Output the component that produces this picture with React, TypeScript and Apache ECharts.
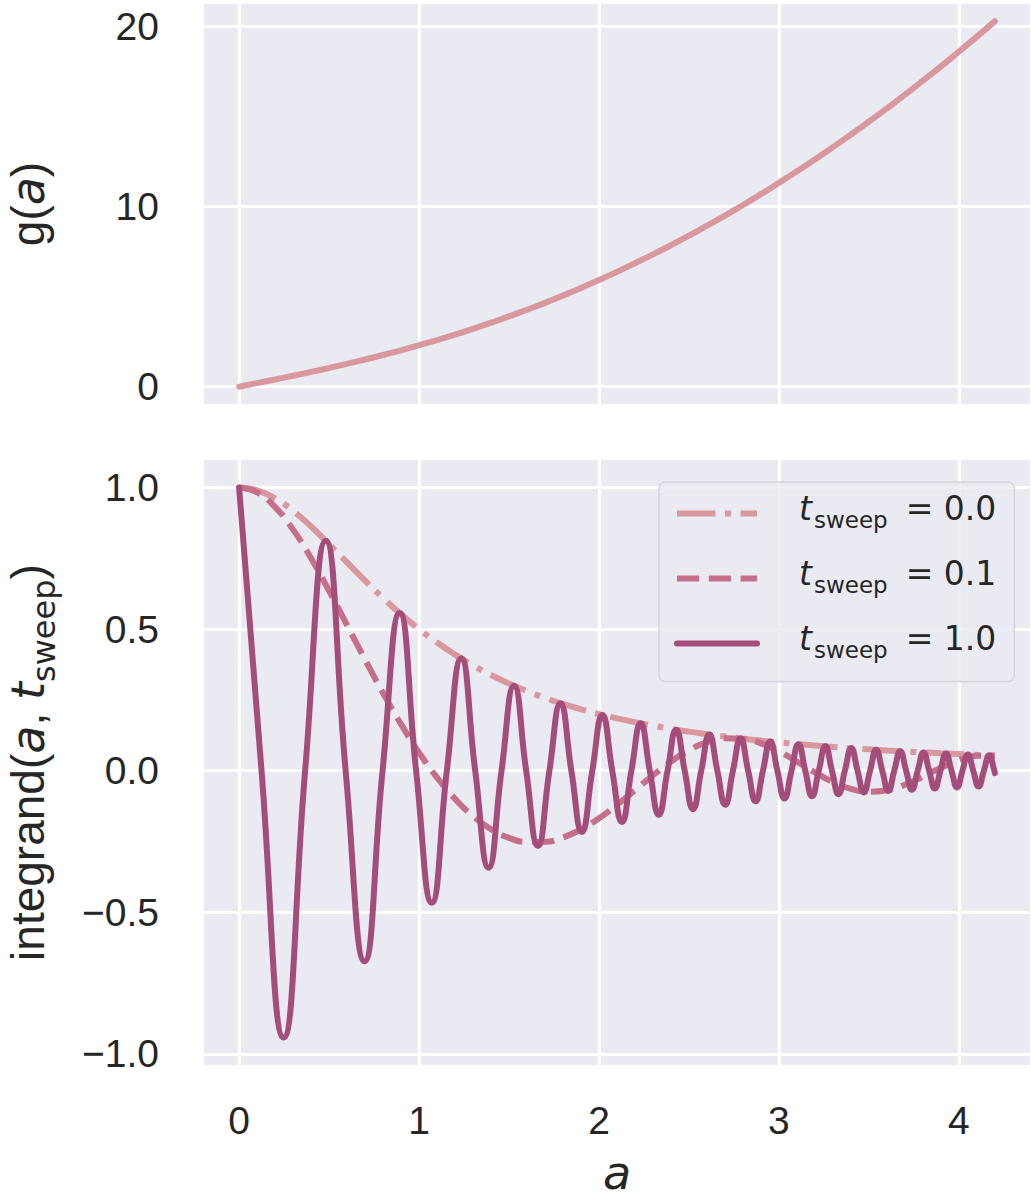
import React, { useEffect, useRef } from 'react';
import * as echarts from 'echarts';

// ---- data ----
const aGrid = [
  0, 0.1, 0.2, 0.3, 0.4, 0.5, 0.6, 0.7, 0.8, 0.9, 1.0, 1.1, 1.2, 1.3, 1.4, 1.5, 1.6, 1.7, 1.8, 1.9, 2.0,
  2.1, 2.2, 2.3, 2.4, 2.5, 2.6, 2.7, 2.8, 2.9, 3.0, 3.1, 3.2, 3.3, 3.4, 3.5, 3.6, 3.7, 3.8, 3.9, 4.0, 4.1, 4.2,
];
const gOfA = [
  0, 0.2, 0.4, 0.61, 0.82, 1.04, 1.27, 1.51, 1.76, 2.02, 2.3, 2.59, 2.89, 3.21, 3.55, 3.9, 4.27, 4.65, 5.06, 5.48, 5.92,
  6.37, 6.85, 7.34, 7.85, 8.38, 8.93, 9.49, 10.08, 10.68, 11.31, 11.95, 12.61, 13.29, 13.99, 14.71, 15.44, 16.2, 16.98,
  17.77, 18.59, 19.42, 20.28,
];
const integrandT00 = [
  1, 0.99, 0.9615, 0.9174, 0.8621, 0.8, 0.7353, 0.6711, 0.6098, 0.5525, 0.5, 0.4525, 0.4098, 0.3717, 0.3378, 0.3077,
  0.2809, 0.2571, 0.2358, 0.2169, 0.2, 0.1848, 0.1712, 0.159, 0.1479, 0.1379, 0.1289, 0.1206, 0.1131, 0.1063, 0.1,
  0.0943, 0.089, 0.0841, 0.0796, 0.0755, 0.0716, 0.0681, 0.0648, 0.0617, 0.0588, 0.0561, 0.0536,
];
const integrandT01 = [
  1, 0.9823, 0.9309, 0.8511, 0.7499, 0.6351, 0.5138, 0.3921, 0.2744, 0.1643, 0.0641, -0.0243, -0.0995, -0.1605,
  -0.2065, -0.237, -0.2517, -0.251, -0.2357, -0.2072, -0.1678, -0.1203, -0.0684, -0.0161, 0.0322, 0.0723, 0.1007,
  0.1146, 0.113, 0.0967, 0.0682, 0.032, -0.006, -0.04, -0.064, -0.0742, -0.0689, -0.0496, -0.0209, 0.0105, 0.0371,
  0.0525, 0.0529,
];
const sweepA = [
  0, 0.1247, 0.2475, 0.3669, 0.4819, 0.5921, 0.6971, 0.7972, 0.8927, 0.9838, 1.071, 1.1545, 1.2348, 1.312, 1.3865,
  1.4583, 1.5279, 1.5953, 1.6607, 1.7243, 1.7862, 1.8464, 1.9053, 1.9627, 2.0188, 2.0737, 2.1274, 2.1801, 2.2316,
  2.2823, 2.332, 2.3809, 2.4288, 2.4761, 2.5224, 2.5682, 2.6132, 2.6575, 2.7012, 2.7443, 2.7868, 2.8288, 2.8702,
  2.911, 2.9514, 2.9913, 3.0307, 3.0696, 3.1081, 3.1462, 3.1839, 3.2211, 3.258, 3.2945, 3.3306, 3.3663, 3.4018,
  3.4368, 3.4716, 3.5061, 3.5402, 3.5741, 3.6076, 3.6408, 3.6738, 3.7065, 3.7389, 3.7711, 3.803, 3.8346, 3.8661,
  3.8972, 3.9282, 3.9589, 3.9894, 4.0197, 4.0498, 4.0796, 4.1093, 4.1388, 4.168, 4.1971, 4.2,
];
const sweepY = [
  1, 0, -0.9423, 0, 0.8115, 0, -0.673, 0, 0.5565, 0, -0.4658, 0, 0.3961, 0, -0.3422, 0, 0.2999, 0, -0.2661, 0,
  0.2386, 0, -0.216, 0, 0.197, 0, -0.181, 0, 0.1672, 0, -0.1553, 0, 0.1449, 0, -0.1358, 0, 0.1277, 0, -0.1205, 0,
  0.1141, 0, -0.1082, 0, 0.103, 0, -0.0982, 0, 0.0938, 0, -0.0898, 0, 0.0861, 0, -0.0827, 0, 0.0795, 0, -0.0766, 0,
  0.0739, 0, -0.0714, 0, 0.069, 0, -0.0668, 0, 0.0647, 0, -0.0627, 0, 0.0609, 0, -0.0591, 0, 0.0575, 0, -0.0559, 0,
  0.0544, 0, -0.0085,
];
const seriesNames = ['t_sweep = 0.0', 't_sweep = 0.1', 't_sweep = 1.0'];
const legendValues = ['0.0', '0.1', '1.0'];

const TEXT = '#262626';
const BG = '#EAEAF2';
const C0 = '#D9979E';
const C1 = '#C66F89';
const C2 = '#A44D7A';
const SANS = "'Liberation Sans', Arial, sans-serif";
const MATH = "'DejaVu Sans', sans-serif";

const nearMultiple = (v: number, step: number) => Math.abs(v / step - Math.round(v / step)) < 1e-6;

const labelRich = {
  r: { fontFamily: SANS, fontSize: 46, lineHeight: 48, color: TEXT },
  i: { fontFamily: MATH, fontStyle: 'italic', fontSize: 46, lineHeight: 48, color: TEXT },
  s: { fontFamily: MATH, fontSize: 32, lineHeight: 48, height: 16, verticalAlign: 'bottom', color: TEXT },
};

export default function App() {
  const ref = useRef<HTMLDivElement>(null);
  useEffect(() => {
    if (!ref.current) return;
    const chart = echarts.init(ref.current, null, { renderer: 'svg' });
    const xAxisBase = (gridIndex: number, showLabels: boolean) => ({
      type: 'value',
      gridIndex,
      min: -0.195,
      max: 4.395,
      minInterval: 1,
      maxInterval: 1,
      axisLine: { show: false },
      axisTick: { show: false },
      axisLabel: {
        show: showLabels,
        showMinLabel: false,
        showMaxLabel: false,
        margin: 35,
        fontSize: 39,
        lineHeight: 40,
        fontFamily: SANS,
        color: TEXT,
        formatter: (v: number) => (nearMultiple(v, 1) ? String(Math.round(v)) : ''),
      },
      splitLine: { show: true, showMinLine: false, showMaxLine: false, lineStyle: { color: '#FFFFFF', width: 3.2 } },
    });
    const option: any = {
      animation: false,
      backgroundColor: '#FFFFFF',
      grid: [
        {
          left: 204, top: 4, width: 826, height: 400, show: true, backgroundColor: BG, borderWidth: 0,
          containLabel: false, outerBoundsMode: 'none',
        },
        {
          left: 204, top: 460, width: 826, height: 605, show: true, backgroundColor: BG, borderWidth: 0,
          containLabel: false, outerBoundsMode: 'none',
        },
      ],
      xAxis: [
        xAxisBase(0, false),
        {
          ...xAxisBase(1, true),
          name: 'a',
          nameLocation: 'middle',
          nameGap: 91,
          nameTextStyle: { fontFamily: MATH, fontStyle: 'italic', fontSize: 46, lineHeight: 34, color: TEXT },
        },
      ],
      yAxis: [
        {
          type: 'value',
          gridIndex: 0,
          min: -0.96,
          max: 21.23,
          minInterval: 10,
          maxInterval: 10,
          axisLine: { show: false },
          axisTick: { show: false },
          axisLabel: {
            showMinLabel: false,
            showMaxLabel: false,
            margin: 45,
            fontSize: 39,
            fontFamily: SANS,
            color: TEXT,
            formatter: (v: number) => (nearMultiple(v, 10) ? String(Math.round(v)) : ''),
          },
          splitLine: { show: true, showMinLine: false, showMaxLine: false, lineStyle: { color: '#FFFFFF', width: 3.2 } },
          name: '{r|g(}{i|a}{r|)}',
          nameLocation: 'middle',
          nameRotate: 90,
          nameGap: 152,
          nameTextStyle: { rich: labelRich },
        },
        {
          type: 'value',
          gridIndex: 1,
          min: -1.039,
          max: 1.097,
          minInterval: 0.5,
          maxInterval: 0.5,
          axisLine: { show: false },
          axisTick: { show: false },
          axisLabel: {
            showMinLabel: false,
            showMaxLabel: false,
            margin: 45,
            fontSize: 39,
            fontFamily: SANS,
            color: TEXT,
            formatter: (v: number) => {
              if (!nearMultiple(v, 0.5)) return '';
              const r = Math.round(v * 2) / 2;
              return (r < 0 ? '\u2212' : '') + Math.abs(r).toFixed(1);
            },
          },
          splitLine: { show: true, showMinLine: false, showMaxLine: false, lineStyle: { color: '#FFFFFF', width: 3.2 } },
          name: '{r|integrand(}{i|a}{r|, }{i|t}{s|sweep}{r|)}',
          nameLocation: 'middle',
          nameRotate: 90,
          nameGap: 152,
          nameTextStyle: { rich: labelRich },
        },
      ],
      legend: {
        data: seriesNames,
        orient: 'vertical',
        left: 659,
        top: 482,
        padding: [10, 18, 18, 15],
        itemWidth: 80,
        itemHeight: 40,
        itemGap: 23.5,
        backgroundColor: 'rgba(234,234,242,0.8)',
        borderColor: '#D4D4DE',
        borderWidth: 1.5,
        borderRadius: 6,
        itemStyle: { opacity: 0 },
        lineStyle: { width: 6 },
        selectedMode: false,
        formatter: (name: string) => {
          const idx = seriesNames.indexOf(name);
          return '{t|t}{s|sweep}{m|= ' + legendValues[idx] + '}';
        },
        textStyle: {
          color: TEXT,
          rich: {
            t: {
              fontFamily: MATH, fontStyle: 'italic', fontSize: 33, lineHeight: 40, height: 30,
              verticalAlign: 'top', padding: [0, 2, 0, 37], color: TEXT,
            },
            s: { fontFamily: MATH, fontSize: 23, lineHeight: 40, height: 27, verticalAlign: 'bottom', color: TEXT },
            m: {
              fontFamily: MATH, fontSize: 33, lineHeight: 40, height: 30, verticalAlign: 'top',
              padding: [0, 0, 0, 18], color: TEXT,
            },
          },
        },
      },
      series: [
        {
          name: 'g(a)',
          type: 'line',
          xAxisIndex: 0,
          yAxisIndex: 0,
          data: aGrid.map((a, i) => [a, gOfA[i]]),
          smooth: true,
          symbol: 'none',
          silent: true,
          lineStyle: { color: C0, width: 6, cap: 'round' },
        },
        {
          name: seriesNames[0],
          type: 'line',
          xAxisIndex: 1,
          yAxisIndex: 1,
          data: aGrid.map((a, i) => [a, integrandT00[i]]),
          smooth: true,
          symbol: 'none',
          silent: true,
          color: C0,
          lineStyle: { color: C0, width: 6, type: [38.4, 9.6, 6, 9.6], cap: 'butt' },
        },
        {
          name: seriesNames[1],
          type: 'line',
          xAxisIndex: 1,
          yAxisIndex: 1,
          data: aGrid.map((a, i) => [a, integrandT01[i]]),
          smooth: true,
          symbol: 'none',
          silent: true,
          color: C1,
          lineStyle: { color: C1, width: 6, type: [22.2, 9.6], cap: 'butt' },
        },
        {
          name: seriesNames[2],
          type: 'line',
          xAxisIndex: 1,
          yAxisIndex: 1,
          data: sweepA.map((a, i) => [a, sweepY[i]]),
          smooth: true,
          symbol: 'none',
          silent: true,
          color: C2,
          lineStyle: { color: C2, width: 6, cap: 'round', join: 'round' },
        },
      ],
    };
    chart.setOption(option);
    return () => chart.dispose();
  }, []);
  return (
    <div
      ref={ref}
      style={{ position: 'absolute', left: 0, top: 0, width: 1031, height: 1200, background: '#FFFFFF' }}
    />
  );
}
